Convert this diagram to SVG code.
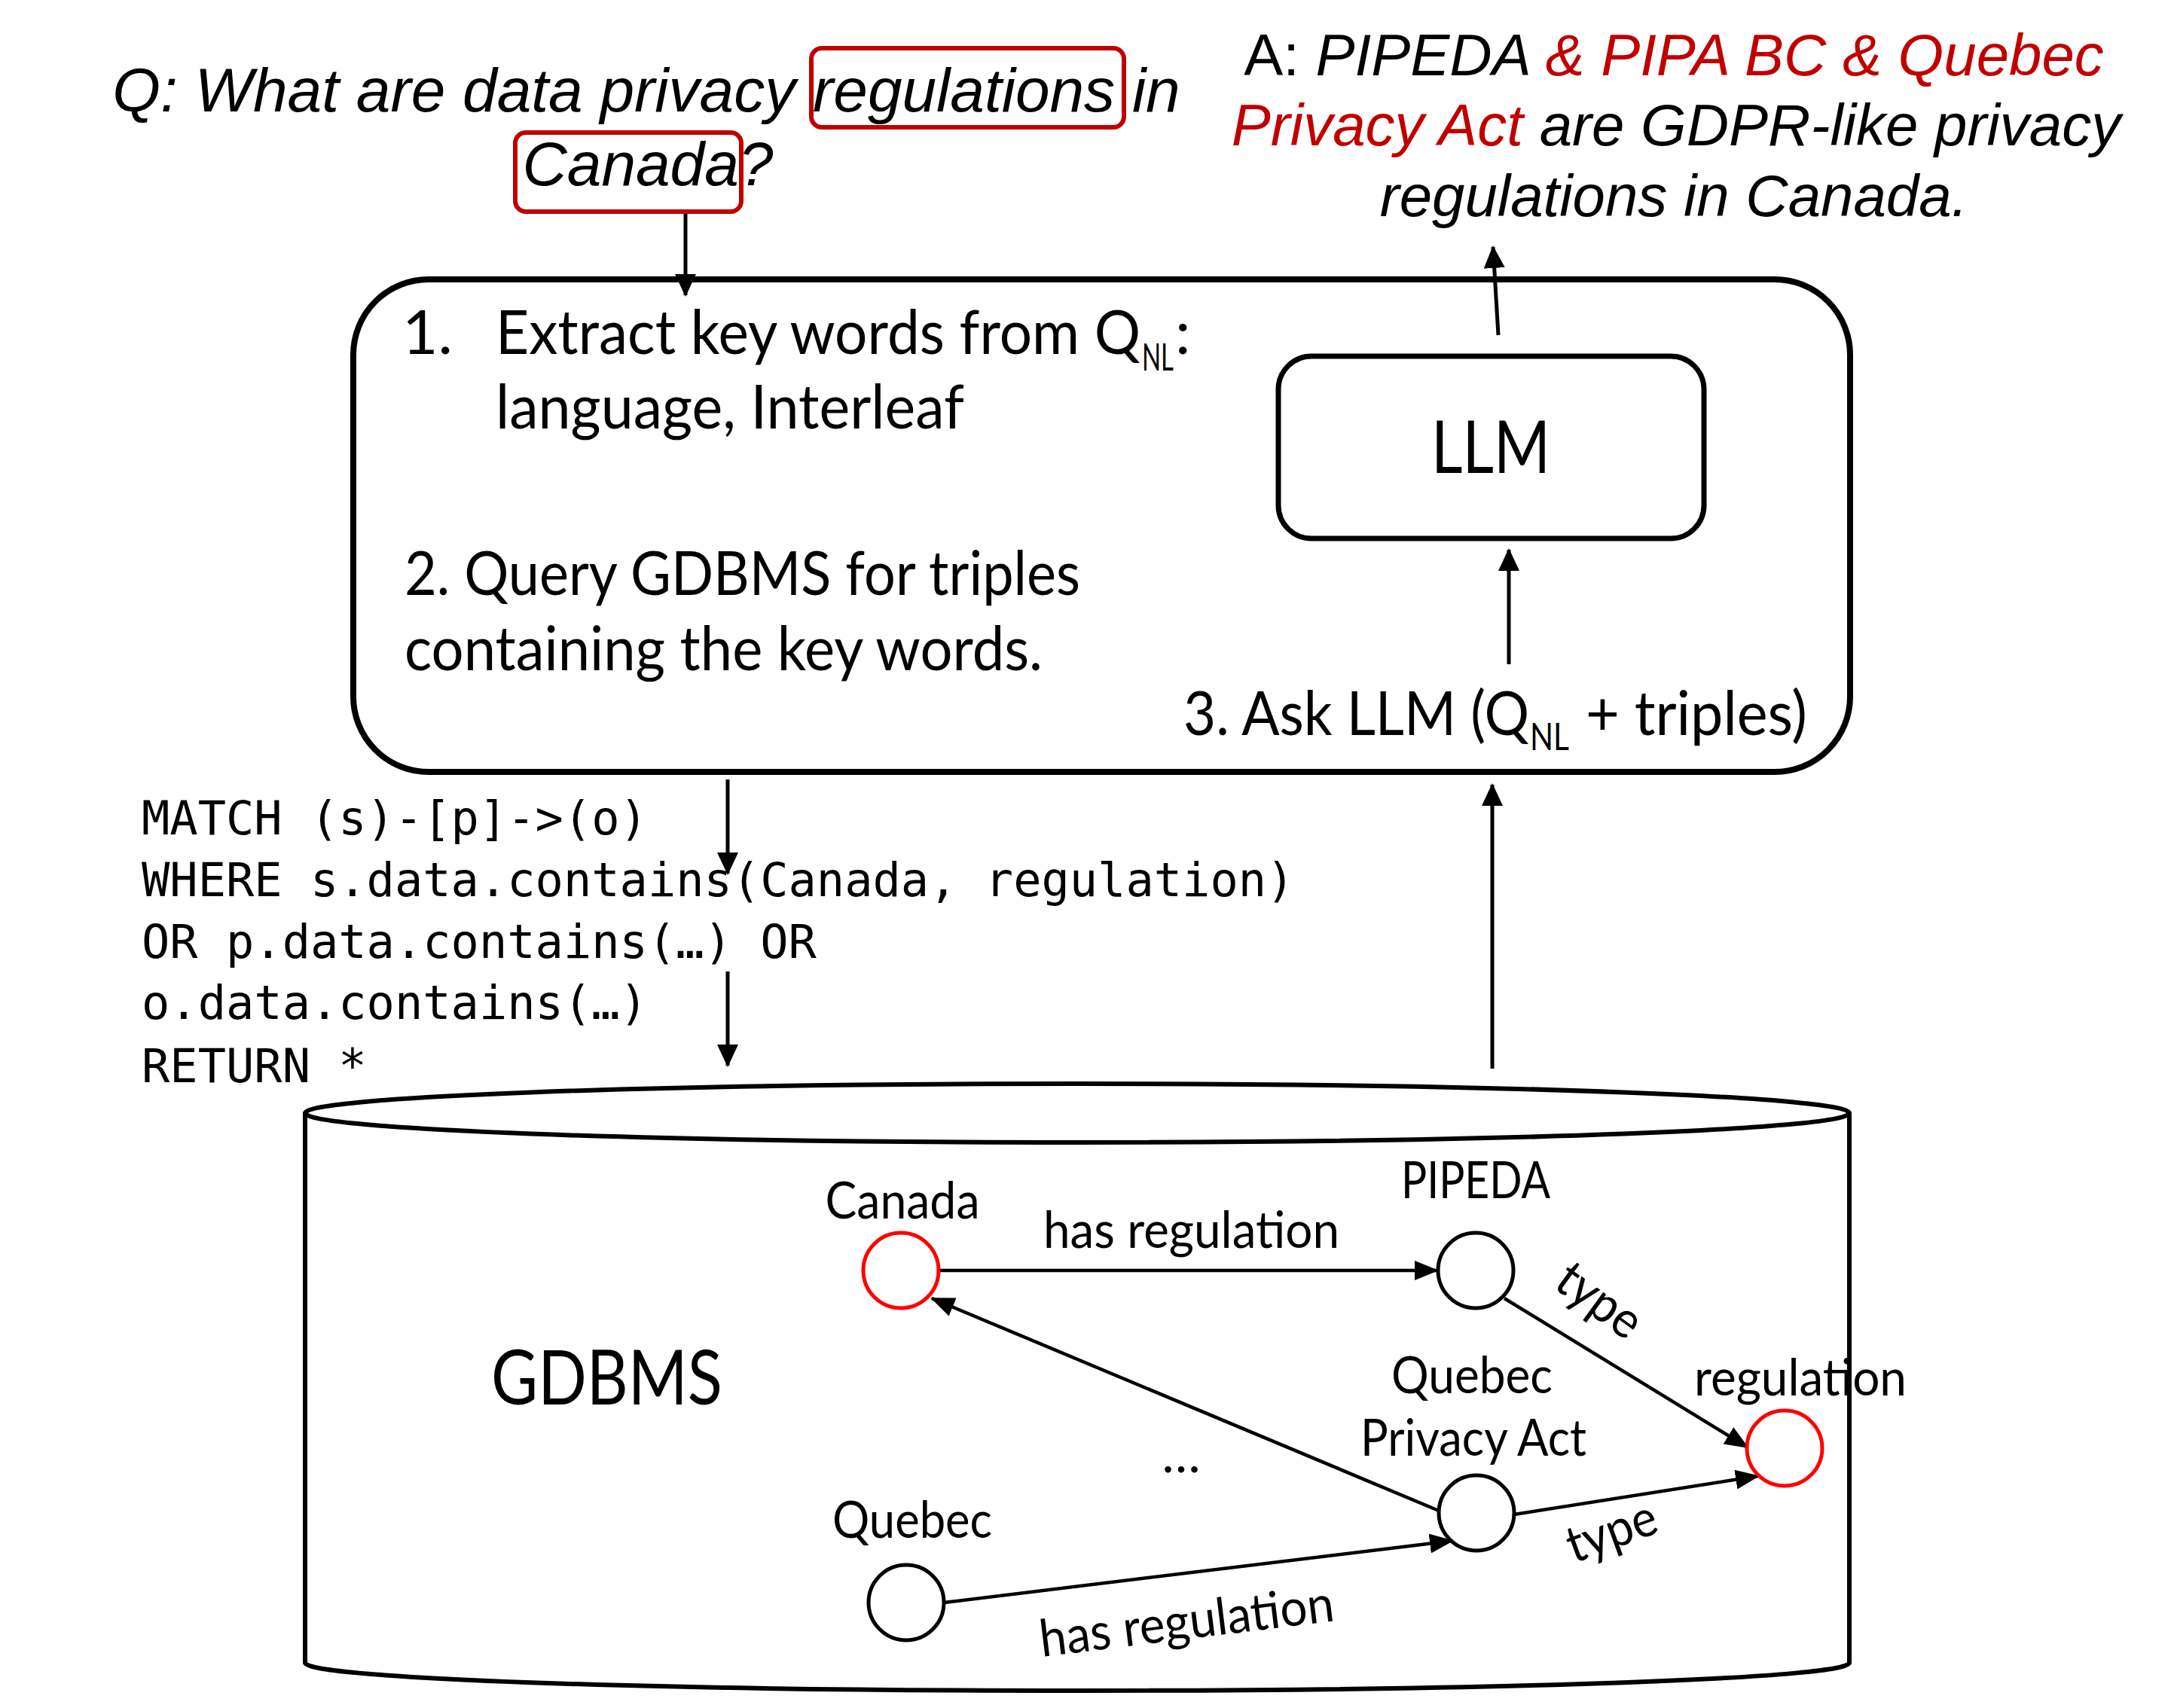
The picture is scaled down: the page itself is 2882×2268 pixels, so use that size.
<svg xmlns="http://www.w3.org/2000/svg" width="2882" height="2268" viewBox="0 0 2882 2268">
<style>
.sans{font-family:"Liberation Sans",Arial,sans-serif;font-style:italic;font-size:82px;fill:#000}
.ans{font-family:"Liberation Sans",Arial,sans-serif;font-style:italic;font-size:78px;fill:#000}
.red{fill:#C00000}
.cal{font-family:Lato,"Open Sans",sans-serif;font-size:82px;fill:#000}
.sub{font-size:50px}
.big{font-family:Lato,"Open Sans",sans-serif;font-size:96px;fill:#000}
.lbl{font-family:Lato,"Open Sans",sans-serif;font-size:68px;fill:#000}
.mono{font-family:"DejaVu Sans Mono","Liberation Mono",monospace;font-size:62px;fill:#000}
.hl{fill:none;stroke:#C00000;stroke-width:6}
.box{fill:none;stroke:#000;stroke-width:8}
.arr{fill:none;stroke:#000;stroke-width:5}
.edge{fill:none;stroke:#000;stroke-width:4.5}
.node{fill:#fff;stroke:#000;stroke-width:5}
.rnode{fill:#fff;stroke:#FF0000;stroke-width:5}
</style>
<defs>
<marker id="ah" markerUnits="userSpaceOnUse" markerWidth="30" markerHeight="28" refX="28" refY="14" orient="auto">
<path d="M0,0 L30,14 L0,28 z" fill="#000"/>
</marker>
<marker id="ahs" markerUnits="userSpaceOnUse" markerWidth="32" markerHeight="26" refX="30" refY="13" orient="auto">
<path d="M0,0 L32,13 L0,26 z" fill="#000"/>
</marker>
</defs>

<g id="question">
<rect class="hl" x="1077" y="64" width="415" height="105" rx="14"/>
<rect class="hl" x="684" y="176" width="300" height="105" rx="14"/>
<text class="sans" x="858" y="148" text-anchor="middle">Q: What are data privacy regulations in</text>
<text class="sans" x="860" y="246" text-anchor="middle">Canada?</text>
</g>

<g id="answer">
<text class="ans" x="2222" y="100" text-anchor="middle"><tspan font-style="normal">A: </tspan>PIPEDA<tspan class="red"> &amp; PIPA BC &amp; Quebec</tspan></text>
<text class="ans" x="2225" y="193" text-anchor="middle"><tspan class="red">Privacy Act</tspan> are GDPR-like privacy</text>
<text class="ans" x="2222" y="287" text-anchor="middle">regulations in Canada.</text>
</g>

<g id="pipeline">
<rect class="box" x="469" y="371" width="1987" height="654" rx="100"/>
<text class="cal" x="534" y="470">1.</text>
<text class="cal" y="470"><tspan x="658" textLength="856" lengthAdjust="spacingAndGlyphs">Extract key words from Q</tspan><tspan class="sub" x="1516" y="492" textLength="42" lengthAdjust="spacingAndGlyphs">NL</tspan><tspan x="1560" y="470">:</tspan></text>
<text class="cal" x="658" y="569" textLength="622" lengthAdjust="spacingAndGlyphs">language, Interleaf</text>
<text class="cal" x="537" y="790" textLength="897" lengthAdjust="spacingAndGlyphs">2. Query GDBMS for triples</text>
<text class="cal" x="537" y="890" textLength="847" lengthAdjust="spacingAndGlyphs">containing the key words.</text>
<text class="cal" y="976"><tspan x="1571" textLength="459" lengthAdjust="spacingAndGlyphs">3. Ask LLM (Q</tspan><tspan class="sub" x="2031" y="996" textLength="52" lengthAdjust="spacingAndGlyphs">NL</tspan><tspan x="2105" y="976" textLength="294" lengthAdjust="spacingAndGlyphs">+ triples)</tspan></text>
</g>

<g id="llm">
<rect x="1697" y="473" width="565" height="242" rx="44" fill="#fff" stroke="#000" stroke-width="7"/>
<text class="big" x="1979" y="628" text-anchor="middle" textLength="158" lengthAdjust="spacingAndGlyphs">LLM</text>
</g>

<g id="query">
<text class="mono" x="188" y="1108" xml:space="preserve">MATCH (s)-[p]-&gt;(o)</text>
<text class="mono" x="188" y="1190" xml:space="preserve">WHERE s.data.contains(Canada, regulation)</text>
<text class="mono" x="188" y="1272" xml:space="preserve">OR p.data.contains(…) OR</text>
<text class="mono" x="188" y="1353" xml:space="preserve">o.data.contains(…)</text>
<text class="mono" x="188" y="1437" xml:space="preserve">RETURN *</text>
</g>

<g id="gdbms">
<path d="M405,1478 L405,2208 A1025,37 0 0 0 2455,2208 L2455,1478" fill="#fff" stroke="#000" stroke-width="6"/>
<ellipse cx="1430" cy="1478" rx="1025" ry="39" fill="#fff" stroke="#000" stroke-width="6"/>
<text class="big" x="652" y="1865" style="font-size:100px" textLength="307" lengthAdjust="spacingAndGlyphs">GDBMS</text>
</g>

<g id="connectors">
<line class="arr" x1="910" y1="284" x2="910" y2="392" marker-end="url(#ah)"/>
<line class="arr" x1="1989" y1="445" x2="1982" y2="328" marker-end="url(#ah)"/>
<line class="arr" x1="2003" y1="882" x2="2003" y2="730" marker-end="url(#ah)"/>
<line class="arr" x1="966" y1="1035" x2="966" y2="1160" marker-end="url(#ah)"/>
<line class="arr" x1="966" y1="1290" x2="966" y2="1415" marker-end="url(#ah)"/>
<line class="arr" x1="1981" y1="1419" x2="1981" y2="1042" marker-end="url(#ah)"/>
<line class="edge" x1="1247" y1="1687" x2="1908" y2="1687" marker-end="url(#ahs)"/>
<line class="edge" x1="1910" y1="2006" x2="1237" y2="1724" marker-end="url(#ahs)"/>
<line class="edge" x1="1997" y1="1724" x2="2320" y2="1922" marker-end="url(#ahs)"/>
<line class="edge" x1="2010" y1="2011" x2="2334" y2="1960" marker-end="url(#ahs)"/>
<line class="edge" x1="1253" y1="2128" x2="1928" y2="2046" marker-end="url(#ahs)"/>
<text class="lbl" x="1385" y="1657" textLength="393" lengthAdjust="spacingAndGlyphs">has regulation</text>
<text class="lbl" transform="translate(2110,1745) rotate(36)" x="0" y="0" text-anchor="middle" textLength="123" lengthAdjust="spacingAndGlyphs">type</text>
<text class="lbl" transform="translate(2147,2055) rotate(-20)" x="0" y="0" text-anchor="middle" textLength="123" lengthAdjust="spacingAndGlyphs">type</text>
<text class="lbl" transform="translate(1383,2200) rotate(-7)" x="0" y="0" textLength="393" lengthAdjust="spacingAndGlyphs">has regulation</text>
<text class="lbl" x="1568" y="1955" text-anchor="middle">…</text>
</g>

<g id="node-canada">
<circle class="rnode" cx="1196" cy="1687" r="50"/>
<text class="lbl" x="1198" y="1618" text-anchor="middle" textLength="205" lengthAdjust="spacingAndGlyphs">Canada</text>
</g>
<g id="node-pipeda">
<circle class="node" cx="1959" cy="1687" r="50"/>
<text class="lbl" x="1959" y="1591" text-anchor="middle" textLength="198" lengthAdjust="spacingAndGlyphs">PIPEDA</text>
</g>
<g id="node-regulation">
<circle class="rnode" cx="2369" cy="1923" r="50"/>
<text class="lbl" x="2249" y="1853" textLength="282" lengthAdjust="spacingAndGlyphs">regulation</text>
</g>
<g id="node-qpa">
<circle class="node" cx="1960" cy="2009" r="50"/>
<text class="lbl" x="1954" y="1850" text-anchor="middle" textLength="214" lengthAdjust="spacingAndGlyphs">Quebec</text>
<text class="lbl" x="1956" y="1933" text-anchor="middle" textLength="300" lengthAdjust="spacingAndGlyphs">Privacy Act</text>
</g>
<g id="node-quebec">
<circle class="node" cx="1203" cy="2128" r="50"/>
<text class="lbl" x="1211" y="2042" text-anchor="middle" textLength="212" lengthAdjust="spacingAndGlyphs">Quebec</text>
</g>
</svg>
